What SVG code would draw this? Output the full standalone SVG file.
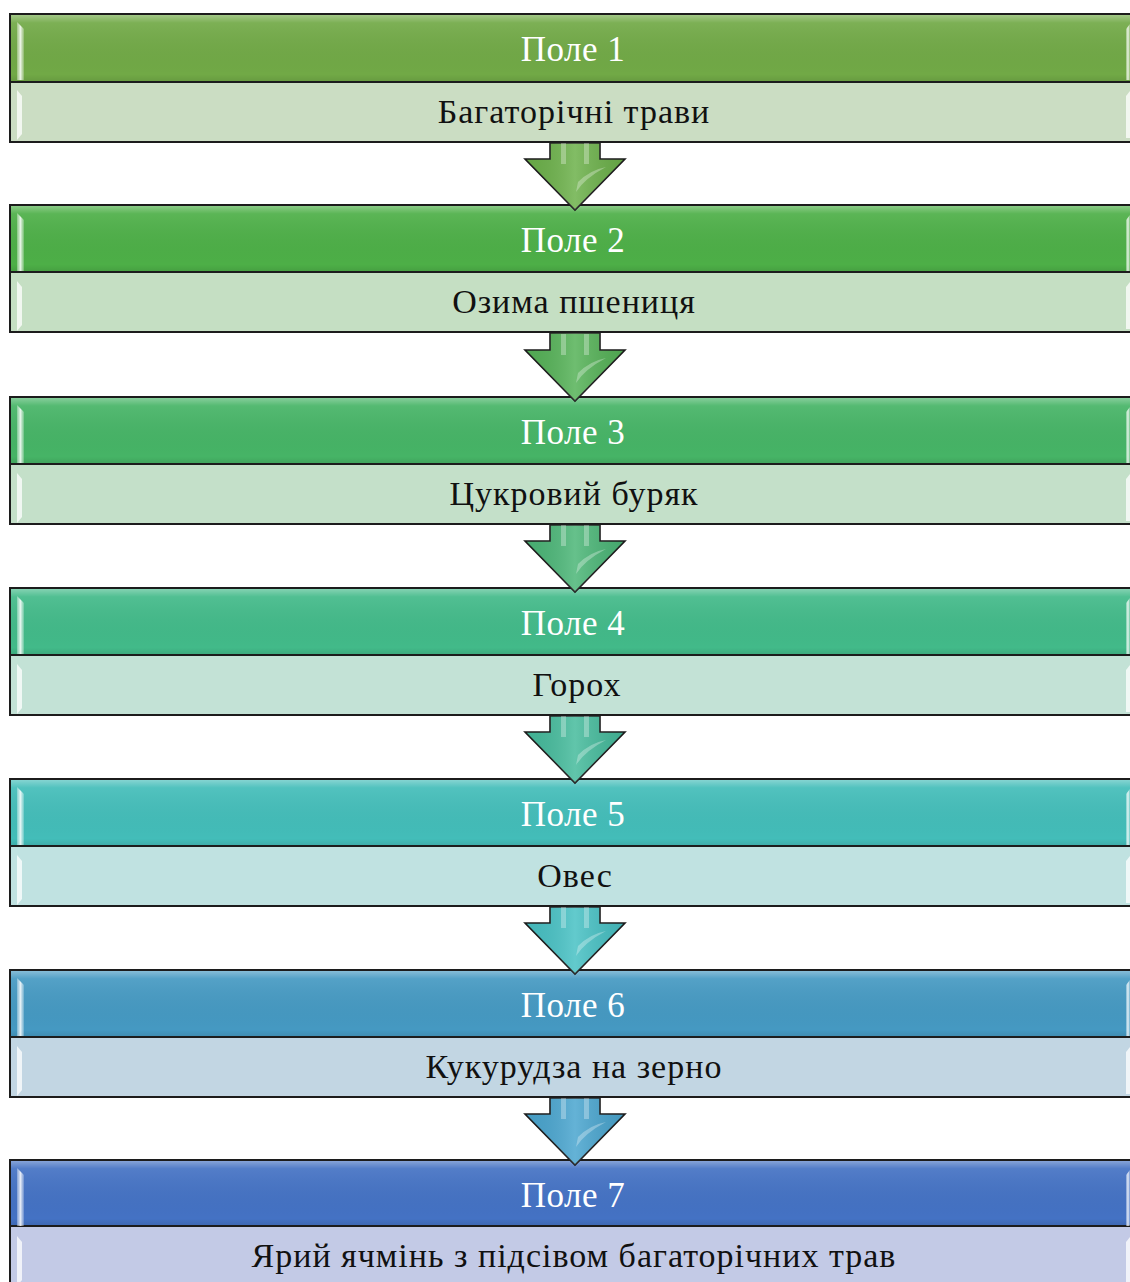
<svg xmlns="http://www.w3.org/2000/svg" width="1130" height="1282" viewBox="0 0 1130 1282">
<defs>
<style>
.hd{stroke:#1c1c1c;stroke-width:2}
.lt{stroke:#1c1c1c;stroke-width:2}
.ht{font-family:"Liberation Serif","Times New Roman",serif;font-size:35px;fill:#ffffff;text-anchor:middle;letter-spacing:0.5px}
.lb{font-family:"Liberation Serif","Times New Roman",serif;font-size:34px;fill:#111111;text-anchor:middle;letter-spacing:1px}
.arr{stroke:#1c1c1c;stroke-width:1.6;stroke-linejoin:miter}
.glint{fill:url(#glintG)}
.glintL{fill:#ffffff;opacity:0.75}
.shine{fill:url(#topG)}
.astripe{fill:#ffffff;opacity:0.3}
</style>
<linearGradient id="topG" x1="0" y1="0" x2="0" y2="1">
<stop offset="0" stop-color="#ffffff" stop-opacity="0.35"/>
<stop offset="0.12" stop-color="#ffffff" stop-opacity="0.08"/>
<stop offset="0.9" stop-color="#000000" stop-opacity="0"/>
<stop offset="1" stop-color="#000000" stop-opacity="0.08"/>
</linearGradient>
<linearGradient id="glintG" x1="0" y1="0" x2="1" y2="0">
<stop offset="0" stop-color="#ffffff" stop-opacity="0.3"/>
<stop offset="0.5" stop-color="#ffffff" stop-opacity="0.85"/>
<stop offset="1" stop-color="#ffffff" stop-opacity="0.2"/>
</linearGradient>
<linearGradient id="arrShade" x1="0" y1="0" x2="1" y2="0">
<stop offset="0" stop-color="#000000" stop-opacity="0.05"/>
<stop offset="0.5" stop-color="#ffffff" stop-opacity="0.15"/>
<stop offset="1" stop-color="#000000" stop-opacity="0.08"/>
</linearGradient>
<g id="gl">
<polygon class="glint" points="17,8 24,15 24,66 17,66"/>
<polygon class="glintL" points="17,76 22,82 22,120 17,126"/>
<polygon class="glint" points="1126,15 1130,10 1130,66 1126,66"/>
<polygon class="glintL" points="1126,82 1130,77 1130,124 1126,124"/>
</g>
<g id="ar">
<polygon class="astripe" points="561,1 566,1 566,22 561,22"/>
<polygon class="astripe" points="584,1 589,1 589,22 584,22"/>
<path d="M576,50 Q585,36 606,25 Q590,28 578,40 Z" fill="#ffffff" opacity="0.3"/>
</g>
</defs>

<rect x="0" y="0" width="1130" height="1282" fill="#ffffff"/>

<g id="field1">
<rect class="hd" x="10" y="14" width="1130" height="68" fill="#71A946"/>
<rect x="11" y="15" width="1119" height="66" class="shine"/>
<rect class="lt" x="10" y="82" width="1130" height="60" fill="#CBDDC3"/>
<use href="#gl" y="14"/>
<text class="ht" x="573" y="61">Поле 1</text>
<text class="lb" x="574" y="123">Багаторічні трави</text>
</g>

<g id="field2">
<rect class="hd" x="10" y="205" width="1130" height="67" fill="#4DAF47"/>
<rect x="11" y="206" width="1119" height="65" class="shine"/>
<rect class="lt" x="10" y="272" width="1130" height="60" fill="#C5DFC3"/>
<use href="#gl" y="205"/>
<text class="ht" x="573" y="252">Поле 2</text>
<text class="lb" x="574" y="313">Озима пшениця</text>
</g>

<g id="field3">
<rect class="hd" x="10" y="397" width="1130" height="67" fill="#46B466"/>
<rect x="11" y="398" width="1119" height="65" class="shine"/>
<rect class="lt" x="10" y="464" width="1130" height="60" fill="#C4E0C9"/>
<use href="#gl" y="397"/>
<text class="ht" x="573" y="444">Поле 3</text>
<text class="lb" x="574" y="505">Цукровий буряк</text>
</g>

<g id="field4">
<rect class="hd" x="10" y="588" width="1130" height="67" fill="#42BA89"/>
<rect x="11" y="589" width="1119" height="65" class="shine"/>
<rect class="lt" x="10" y="655" width="1130" height="60" fill="#C3E2D6"/>
<use href="#gl" y="588"/>
<text class="ht" x="573" y="635">Поле 4</text>
<text class="lb" x="577" y="696">Горох</text>
</g>

<g id="field5">
<rect class="hd" x="10" y="779" width="1130" height="67" fill="#43BDB9"/>
<rect x="11" y="780" width="1119" height="65" class="shine"/>
<rect class="lt" x="10" y="846" width="1130" height="60" fill="#C0E2E1"/>
<use href="#gl" y="779"/>
<text class="ht" x="573" y="826">Поле 5</text>
<text class="lb" x="575" y="887">Овес</text>
</g>

<g id="field6">
<rect class="hd" x="10" y="970" width="1130" height="67" fill="#4599C2"/>
<rect x="11" y="971" width="1119" height="65" class="shine"/>
<rect class="lt" x="10" y="1037" width="1130" height="60" fill="#C2D6E3"/>
<use href="#gl" y="970"/>
<text class="ht" x="573" y="1017">Поле 6</text>
<text class="lb" x="574" y="1078">Кукурудза на зерно</text>
</g>

<g id="field7">
<rect class="hd" x="10" y="1160" width="1130" height="66" fill="#4472C4"/>
<rect x="11" y="1161" width="1119" height="64" class="shine"/>
<rect class="lt" x="10" y="1226" width="1130" height="70" fill="#C3CAE6"/>
<use href="#gl" y="1160"/>
<text class="ht" x="573" y="1207">Поле 7</text>
<text class="lb" x="574" y="1267">Ярий ячмінь з підсівом багаторічних трав</text>
</g>

<g id="connectors">
<g id="arrow1">
<polygon class="arr" fill="#6CB14A" points="550,143 600,143 600,159 625,159 575,210 525,159 550,159"/>
<polygon fill="url(#arrShade)" points="550,143 600,143 600,159 625,159 575,210 525,159 550,159"/>
<use href="#ar" y="142"/>
</g>
<g id="arrow2">
<polygon class="arr" fill="#55B257" points="550,333 600,333 600,350 625,350 575,401 525,350 550,350"/>
<polygon fill="url(#arrShade)" points="550,333 600,333 600,350 625,350 575,401 525,350 550,350"/>
<use href="#ar" y="333"/>
</g>
<g id="arrow3">
<polygon class="arr" fill="#4BB677" points="550,525 600,525 600,541 625,541 575,592 525,541 550,541"/>
<polygon fill="url(#arrShade)" points="550,525 600,525 600,541 625,541 575,592 525,541 550,541"/>
<use href="#ar" y="524"/>
</g>
<g id="arrow4">
<polygon class="arr" fill="#45BB9C" points="550,716 600,716 600,732 625,732 575,783 525,732 550,732"/>
<polygon fill="url(#arrShade)" points="550,716 600,716 600,732 625,732 575,783 525,732 550,732"/>
<use href="#ar" y="715"/>
</g>
<g id="arrow5">
<polygon class="arr" fill="#47C1C4" points="550,907 600,907 600,923 625,923 575,974 525,923 550,923"/>
<polygon fill="url(#arrShade)" points="550,907 600,907 600,923 625,923 575,974 525,923 550,923"/>
<use href="#ar" y="906"/>
</g>
<g id="arrow6">
<polygon class="arr" fill="#49A5CF" points="550,1098 600,1098 600,1114 625,1114 575,1165 525,1114 550,1114"/>
<polygon fill="url(#arrShade)" points="550,1098 600,1098 600,1114 625,1114 575,1165 525,1114 550,1114"/>
<use href="#ar" y="1097"/>
</g>
</g>
</svg>
